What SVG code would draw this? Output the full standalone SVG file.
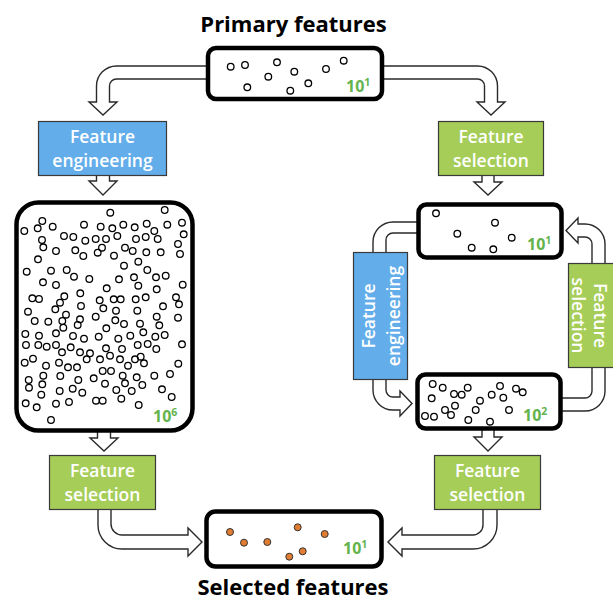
<svg xmlns="http://www.w3.org/2000/svg" width="613" height="600" viewBox="0 0 613 600">
  <style>
    .box{fill:#fff;stroke:#000;stroke-width:4.5}
    .blue{fill:#62ADEA;stroke:#3a3a3a;stroke-width:1.2}
    .green{fill:#A5CD58;stroke:#3a3a3a;stroke-width:1.2}
    .lbl{font-family:"Open Sans","Liberation Sans",sans-serif;font-weight:600;font-size:17.5px;fill:#fff;text-anchor:middle}
    .title{font-family:"Open Sans","Liberation Sans",sans-serif;font-weight:700;font-size:22px;fill:#000;text-anchor:middle}
    .num{font-family:"Open Sans","Liberation Sans",sans-serif;font-weight:700;font-size:16px;fill:#63B34C}
    .sup{font-size:10.5px}
    .dot{fill:none;stroke:#000;stroke-width:1.3}
    .sel{fill:#E07D32;stroke:#333;stroke-width:1}
    .arrow{fill:#fff;stroke:#2a2a2a;stroke-width:1.4}
  </style>

  <!-- hollow block arrows, drawn first so the boxes cover their tails -->
  <g id="connectors">
    <path class="arrow" d="M210,66 H116.5 A20,20 0 0 0 96.5,86 V102 H89 L103,115 L117,102 H109.5 V86 A7,7 0 0 1 116.5,79 H210"/>
    <path class="arrow" d="M380,66 H477.5 A20,20 0 0 1 497.5,86 V102 H505 L491,115 L477,102 H484.5 V86 A7,7 0 0 0 477.5,79 H380"/>
    <path class="arrow" d="M96.5,175 V181 H89 L103,195 L117,181 H109.5 V175"/>
    <path class="arrow" d="M482,175 V182 H474 L488,195 L502,182 H494 V175"/>
    <path class="arrow" d="M97.5,430 V438 H90 L104,451 L118,438 H110.5 V430"/>
    <path class="arrow" d="M482,428 V437 H474 L488,451 L502,437 H494 V428"/>
    <path class="arrow" d="M98,509 V525 A24,24 0 0 0 122,549 H188 V556 L202,542 L188,528 V535 H122 A11,11 0 0 1 111,524 V509"/>
    <path class="arrow" d="M497,509 V525 A24,24 0 0 1 473,549 H402 V556 L388,542 L402,528 V535 H473 A10,10 0 0 0 483,525 V509"/>
    <path class="arrow" d="M420,222 H393 A20,20 0 0 0 373,242 V253 H386 V240 A7,7 0 0 1 393,233 H420"/>
    <path class="arrow" d="M373,379 V390 A20,20 0 0 0 393,410 H400 V416 L412,403.5 L400,391 V397 H393 A7,7 0 0 1 386,390 V379"/>
    <path class="arrow" d="M559,398 H585 A7,7 0 0 0 592,391 V367 H605 V391 A20,20 0 0 1 585,411 H559"/>
    <path class="arrow" d="M605,264 V244 A20,20 0 0 0 585,224 H578 V218 L566,230.5 L578,243 V237 H585 A7,7 0 0 1 592,244 V264"/>
  </g>

  <g id="primary-features">
    <text class="title" x="293.5" y="32">Primary features</text>
    <rect class="box" x="208" y="48" width="174" height="51" rx="8"/>
    <circle class="dot" r="3.3" cx="230.7" cy="66.7"/>
    <circle class="dot" r="3.3" cx="245" cy="65"/>
    <circle class="dot" r="3.3" cx="277" cy="62.3"/>
    <circle class="dot" r="3.3" cx="294.3" cy="71.7"/>
    <circle class="dot" r="3.3" cx="268.3" cy="76.7"/>
    <circle class="dot" r="3.3" cx="247.3" cy="87.3"/>
    <circle class="dot" r="3.3" cx="290.3" cy="90.7"/>
    <circle class="dot" r="3.3" cx="308.3" cy="83.3"/>
    <circle class="dot" r="3.3" cx="326" cy="69"/>
    <circle class="dot" r="3.3" cx="343.7" cy="60.7"/>
    <text class="num" x="346" y="92">10<tspan class="sup" dy="-6">1</tspan></text>
  </g>

  <g id="engineering-left">
    <rect class="blue" x="38.5" y="121.5" width="128" height="54"/>
    <text class="lbl" x="102.5" y="143">Feature</text>
    <text class="lbl" x="102.5" y="167">engineering</text>
  </g>

  <g id="selection-top-right">
    <rect class="green" x="438.5" y="121.5" width="105" height="54"/>
    <text class="lbl" x="491" y="143">Feature</text>
    <text class="lbl" x="491" y="167">selection</text>
  </g>

  <g id="engineered-features">
    <rect class="box" x="16.5" y="202.5" width="176" height="228" rx="22"/>
    <g class="dots">
      <circle class="dot" r="3.3" cx="110.3" cy="212.7"/><circle class="dot" r="3.3" cx="164.7" cy="210"/>
      <circle class="dot" r="3.3" cx="42.3" cy="221"/><circle class="dot" r="3.3" cx="24.3" cy="231"/>
      <circle class="dot" r="3.3" cx="37.7" cy="228.3"/><circle class="dot" r="3.3" cx="52.7" cy="226.7"/>
      <circle class="dot" r="3.3" cx="84" cy="224.7"/><circle class="dot" r="3.3" cx="100.7" cy="226.7"/>
      <circle class="dot" r="3.3" cx="112.3" cy="228.3"/><circle class="dot" r="3.3" cx="123.3" cy="224.7"/>
      <circle class="dot" r="3.3" cx="134.7" cy="227.3"/><circle class="dot" r="3.3" cx="146.7" cy="223.7"/>
      <circle class="dot" r="3.3" cx="154.3" cy="231"/><circle class="dot" r="3.3" cx="167.3" cy="224.7"/>
      <circle class="dot" r="3.3" cx="182" cy="222.7"/><circle class="dot" r="3.3" cx="183.7" cy="234.3"/>
      <circle class="dot" r="3.3" cx="64" cy="236"/><circle class="dot" r="3.3" cx="73.3" cy="237"/>
      <circle class="dot" r="3.3" cx="85.3" cy="240.7"/><circle class="dot" r="3.3" cx="95.7" cy="239"/>
      <circle class="dot" r="3.3" cx="106" cy="239"/><circle class="dot" r="3.3" cx="117.3" cy="236"/>
      <circle class="dot" r="3.3" cx="136" cy="239"/><circle class="dot" r="3.3" cx="145.7" cy="237"/>
      <circle class="dot" r="3.3" cx="157.7" cy="239"/><circle class="dot" r="3.3" cx="42" cy="240"/>
      <circle class="dot" r="3.3" cx="43.3" cy="247.3"/><circle class="dot" r="3.3" cx="178" cy="244"/>
      <circle class="dot" r="3.3" cx="56" cy="251"/><circle class="dot" r="3.3" cx="75.3" cy="250.3"/>
      <circle class="dot" r="3.3" cx="83.3" cy="256"/><circle class="dot" r="3.3" cx="97.7" cy="252.7"/>
      <circle class="dot" r="3.3" cx="102" cy="247.7"/><circle class="dot" r="3.3" cx="114" cy="255.7"/>
      <circle class="dot" r="3.3" cx="125" cy="247.7"/><circle class="dot" r="3.3" cx="132.7" cy="251"/>
      <circle class="dot" r="3.3" cx="146.3" cy="252.3"/><circle class="dot" r="3.3" cx="160.7" cy="252.3"/>
      <circle class="dot" r="3.3" cx="180" cy="254"/><circle class="dot" r="3.3" cx="38" cy="259.3"/>
      <circle class="dot" r="3.3" cx="124" cy="265.7"/><circle class="dot" r="3.3" cx="138.3" cy="261.7"/>
      <circle class="dot" r="3.3" cx="26.7" cy="271.7"/><circle class="dot" r="3.3" cx="51" cy="270.7"/>
      <circle class="dot" r="3.3" cx="66.7" cy="270"/><circle class="dot" r="3.3" cx="74" cy="276.7"/>
      <circle class="dot" r="3.3" cx="89.3" cy="279"/><circle class="dot" r="3.3" cx="119" cy="279.3"/>
      <circle class="dot" r="3.3" cx="134" cy="277.3"/><circle class="dot" r="3.3" cx="147.3" cy="270"/>
      <circle class="dot" r="3.3" cx="156" cy="277.3"/><circle class="dot" r="3.3" cx="165.7" cy="275.7"/>
      <circle class="dot" r="3.3" cx="43" cy="282.3"/><circle class="dot" r="3.3" cx="56" cy="285"/>
      <circle class="dot" r="3.3" cx="106.7" cy="288.3"/><circle class="dot" r="3.3" cx="138.3" cy="285.7"/>
      <circle class="dot" r="3.3" cx="156.7" cy="289.3"/><circle class="dot" r="3.3" cx="182.7" cy="284.7"/>
      <circle class="dot" r="3.3" cx="32.3" cy="298.3"/><circle class="dot" r="3.3" cx="39" cy="299"/>
      <circle class="dot" r="3.3" cx="64.3" cy="296.3"/><circle class="dot" r="3.3" cx="60" cy="302.7"/>
      <circle class="dot" r="3.3" cx="80.3" cy="293.3"/><circle class="dot" r="3.3" cx="99.7" cy="300.3"/>
      <circle class="dot" r="3.3" cx="113.7" cy="299.3"/><circle class="dot" r="3.3" cx="120.7" cy="299.3"/>
      <circle class="dot" r="3.3" cx="135.7" cy="299.3"/><circle class="dot" r="3.3" cx="145.7" cy="297.3"/>
      <circle class="dot" r="3.3" cx="176" cy="297.3"/><circle class="dot" r="3.3" cx="179" cy="304.3"/>
      <circle class="dot" r="3.3" cx="55.3" cy="309.3"/><circle class="dot" r="3.3" cx="81" cy="306"/>
      <circle class="dot" r="3.3" cx="103.3" cy="308.3"/><circle class="dot" r="3.3" cx="116" cy="310.7"/>
      <circle class="dot" r="3.3" cx="137.3" cy="310.7"/><circle class="dot" r="3.3" cx="163" cy="306.3"/>
      <circle class="dot" r="3.3" cx="28" cy="311.7"/><circle class="dot" r="3.3" cx="66" cy="314.7"/>
      <circle class="dot" r="3.3" cx="34.7" cy="321"/><circle class="dot" r="3.3" cx="48.3" cy="321.7"/>
      <circle class="dot" r="3.3" cx="62.3" cy="321"/><circle class="dot" r="3.3" cx="80" cy="319.3"/>
      <circle class="dot" r="3.3" cx="95.7" cy="316.7"/><circle class="dot" r="3.3" cx="115.3" cy="320.3"/>
      <circle class="dot" r="3.3" cx="124" cy="324"/><circle class="dot" r="3.3" cx="140" cy="323.7"/>
      <circle class="dot" r="3.3" cx="156.7" cy="316.7"/><circle class="dot" r="3.3" cx="159.3" cy="325.3"/>
      <circle class="dot" r="3.3" cx="178" cy="317.7"/><circle class="dot" r="3.3" cx="77.7" cy="325"/>
      <circle class="dot" r="3.3" cx="63.3" cy="327.7"/><circle class="dot" r="3.3" cx="106.3" cy="328.3"/>
      <circle class="dot" r="3.3" cx="25.3" cy="334"/><circle class="dot" r="3.3" cx="39" cy="335.7"/>
      <circle class="dot" r="3.3" cx="56" cy="333.3"/><circle class="dot" r="3.3" cx="73" cy="336"/>
      <circle class="dot" r="3.3" cx="84" cy="338.7"/><circle class="dot" r="3.3" cx="98.7" cy="336.7"/>
      <circle class="dot" r="3.3" cx="118.3" cy="338.7"/><circle class="dot" r="3.3" cx="130.3" cy="335.7"/>
      <circle class="dot" r="3.3" cx="143.3" cy="332.3"/><circle class="dot" r="3.3" cx="155.3" cy="336.7"/>
      <circle class="dot" r="3.3" cx="164.7" cy="335"/><circle class="dot" r="3.3" cx="26" cy="345"/>
      <circle class="dot" r="3.3" cx="38.3" cy="345"/><circle class="dot" r="3.3" cx="46.7" cy="346.7"/>
      <circle class="dot" r="3.3" cx="56" cy="345"/><circle class="dot" r="3.3" cx="62" cy="352.3"/>
      <circle class="dot" r="3.3" cx="70.7" cy="347.3"/><circle class="dot" r="3.3" cx="80" cy="352.3"/>
      <circle class="dot" r="3.3" cx="90" cy="353.3"/><circle class="dot" r="3.3" cx="106" cy="348.3"/>
      <circle class="dot" r="3.3" cx="122" cy="349"/><circle class="dot" r="3.3" cx="137.7" cy="345"/>
      <circle class="dot" r="3.3" cx="147.7" cy="344"/><circle class="dot" r="3.3" cx="156.3" cy="349"/>
      <circle class="dot" r="3.3" cx="182" cy="344.3"/><circle class="dot" r="3.3" cx="24.7" cy="362.7"/>
      <circle class="dot" r="3.3" cx="33" cy="358.7"/><circle class="dot" r="3.3" cx="46" cy="365.7"/>
      <circle class="dot" r="3.3" cx="59" cy="362.7"/><circle class="dot" r="3.3" cx="68" cy="367.3"/>
      <circle class="dot" r="3.3" cx="77" cy="367.3"/><circle class="dot" r="3.3" cx="86.7" cy="359.3"/>
      <circle class="dot" r="3.3" cx="100" cy="359.3"/><circle class="dot" r="3.3" cx="110" cy="355.7"/>
      <circle class="dot" r="3.3" cx="120" cy="359.3"/><circle class="dot" r="3.3" cx="128" cy="365.7"/>
      <circle class="dot" r="3.3" cx="135" cy="359.3"/><circle class="dot" r="3.3" cx="140.7" cy="356.7"/>
      <circle class="dot" r="3.3" cx="144" cy="363.3"/><circle class="dot" r="3.3" cx="178.3" cy="363.7"/>
      <circle class="dot" r="3.3" cx="102.7" cy="371"/><circle class="dot" r="3.3" cx="111" cy="371"/>
      <circle class="dot" r="3.3" cx="43.3" cy="375.7"/><circle class="dot" r="3.3" cx="60.3" cy="376"/>
      <circle class="dot" r="3.3" cx="78.3" cy="380"/><circle class="dot" r="3.3" cx="93.7" cy="378.3"/>
      <circle class="dot" r="3.3" cx="122.7" cy="375.7"/><circle class="dot" r="3.3" cx="136.7" cy="377.3"/>
      <circle class="dot" r="3.3" cx="154.3" cy="375.7"/><circle class="dot" r="3.3" cx="170" cy="374"/>
      <circle class="dot" r="3.3" cx="28.7" cy="380"/><circle class="dot" r="3.3" cx="29" cy="387.7"/>
      <circle class="dot" r="3.3" cx="42.3" cy="384.3"/><circle class="dot" r="3.3" cx="72.7" cy="388.7"/>
      <circle class="dot" r="3.3" cx="82.3" cy="392.7"/><circle class="dot" r="3.3" cx="105" cy="383.7"/>
      <circle class="dot" r="3.3" cx="125" cy="383.3"/><circle class="dot" r="3.3" cx="116.3" cy="390"/>
      <circle class="dot" r="3.3" cx="131.7" cy="391"/><circle class="dot" r="3.3" cx="142.3" cy="385"/>
      <circle class="dot" r="3.3" cx="162" cy="389.3"/><circle class="dot" r="3.3" cx="59.7" cy="391"/>
      <circle class="dot" r="3.3" cx="41.3" cy="394.7"/><circle class="dot" r="3.3" cx="25.7" cy="403.3"/>
      <circle class="dot" r="3.3" cx="36.7" cy="407.3"/><circle class="dot" r="3.3" cx="56" cy="403.7"/>
      <circle class="dot" r="3.3" cx="69" cy="402"/><circle class="dot" r="3.3" cx="96" cy="400.7"/>
      <circle class="dot" r="3.3" cx="102.7" cy="400.7"/><circle class="dot" r="3.3" cx="121.3" cy="398.7"/>
      <circle class="dot" r="3.3" cx="138.7" cy="405"/><circle class="dot" r="3.3" cx="171.7" cy="397"/>
      <circle class="dot" r="3.3" cx="51" cy="420"/>
    </g>
    <text class="num" x="153" y="422">10<tspan class="sup" dy="-6">6</tspan></text>
  </g>

  <g id="selected-small">
    <rect class="box" x="418.5" y="204.5" width="143" height="53" rx="8"/>
    <circle class="dot" r="3.3" cx="436" cy="213.3"/>
    <circle class="dot" r="3.3" cx="457.3" cy="233.7"/>
    <circle class="dot" r="3.3" cx="495" cy="222.7"/>
    <circle class="dot" r="3.3" cx="471.7" cy="247.7"/>
    <circle class="dot" r="3.3" cx="493.3" cy="249.3"/>
    <circle class="dot" r="3.3" cx="511.7" cy="237.7"/>
    <text class="num" x="527" y="250">10<tspan class="sup" dy="-6">1</tspan></text>
  </g>

  <g id="engineering-right">
    <rect class="blue" x="353.5" y="252.5" width="54" height="127"/>
    <g transform="translate(380.5,316) rotate(-90)">
      <text class="lbl" x="0" y="-5.5">Feature</text>
      <text class="lbl" x="0" y="19">engineering</text>
    </g>
  </g>

  <g id="selection-loop">
    <rect class="green" x="568.5" y="263.5" width="50" height="104"/>
    <g transform="translate(591,315.5) rotate(90)">
      <text class="lbl" x="0" y="-3">Feature</text>
      <text class="lbl" x="0" y="19">selection</text>
    </g>
  </g>

  <g id="expanded-small">
    <rect class="box" x="417.5" y="374.5" width="143" height="54" rx="8"/>
    <circle class="dot" r="3.3" cx="432.7" cy="384"/>
    <circle class="dot" r="3.3" cx="442.7" cy="387.7"/>
    <circle class="dot" r="3.3" cx="467.7" cy="387.7"/>
    <circle class="dot" r="3.3" cx="454" cy="394"/>
    <circle class="dot" r="3.3" cx="461.7" cy="394.7"/>
    <circle class="dot" r="3.3" cx="431.7" cy="398.3"/>
    <circle class="dot" r="3.3" cx="500" cy="386"/>
    <circle class="dot" r="3.3" cx="516" cy="388.7"/>
    <circle class="dot" r="3.3" cx="522.7" cy="392.3"/>
    <circle class="dot" r="3.3" cx="491.7" cy="394.7"/>
    <circle class="dot" r="3.3" cx="503.3" cy="397.7"/>
    <circle class="dot" r="3.3" cx="480" cy="400.7"/>
    <circle class="dot" r="3.3" cx="455" cy="405.7"/>
    <circle class="dot" r="3.3" cx="445" cy="410"/>
    <circle class="dot" r="3.3" cx="451" cy="415"/>
    <circle class="dot" r="3.3" cx="475.7" cy="410"/>
    <circle class="dot" r="3.3" cx="509" cy="410"/>
    <circle class="dot" r="3.3" cx="425" cy="416"/>
    <circle class="dot" r="3.3" cx="434" cy="416.7"/>
    <circle class="dot" r="3.3" cx="468.3" cy="420"/>
    <circle class="dot" r="3.3" cx="490" cy="421.7"/>
    <text class="num" x="523" y="421">10<tspan class="sup" dy="-6">2</tspan></text>
  </g>

  <g id="selection-bottom-left">
    <rect class="green" x="49.5" y="455.5" width="106" height="54"/>
    <text class="lbl" x="102.5" y="477">Feature</text>
    <text class="lbl" x="102.5" y="501">selection</text>
  </g>

  <g id="selection-bottom-right">
    <rect class="green" x="434.5" y="455.5" width="106" height="54"/>
    <text class="lbl" x="487.5" y="477">Feature</text>
    <text class="lbl" x="487.5" y="501">selection</text>
  </g>

  <g id="selected-features">
    <rect class="box" x="206.5" y="511.5" width="175" height="55" rx="9"/>
    <circle class="sel" r="3.5" cx="230" cy="532"/>
    <circle class="sel" r="3.5" cx="244" cy="542.7"/>
    <circle class="sel" r="3.5" cx="267.3" cy="542"/>
    <circle class="sel" r="3.5" cx="297.7" cy="527.3"/>
    <circle class="sel" r="3.5" cx="324.7" cy="534"/>
    <circle class="sel" r="3.5" cx="302.7" cy="551.3"/>
    <circle class="sel" r="3.5" cx="289.3" cy="556.7"/>
    <text class="num" x="343" y="554">10<tspan class="sup" dy="-6">1</tspan></text>
    <text class="title" x="293" y="595">Selected features</text>
  </g>
</svg>
